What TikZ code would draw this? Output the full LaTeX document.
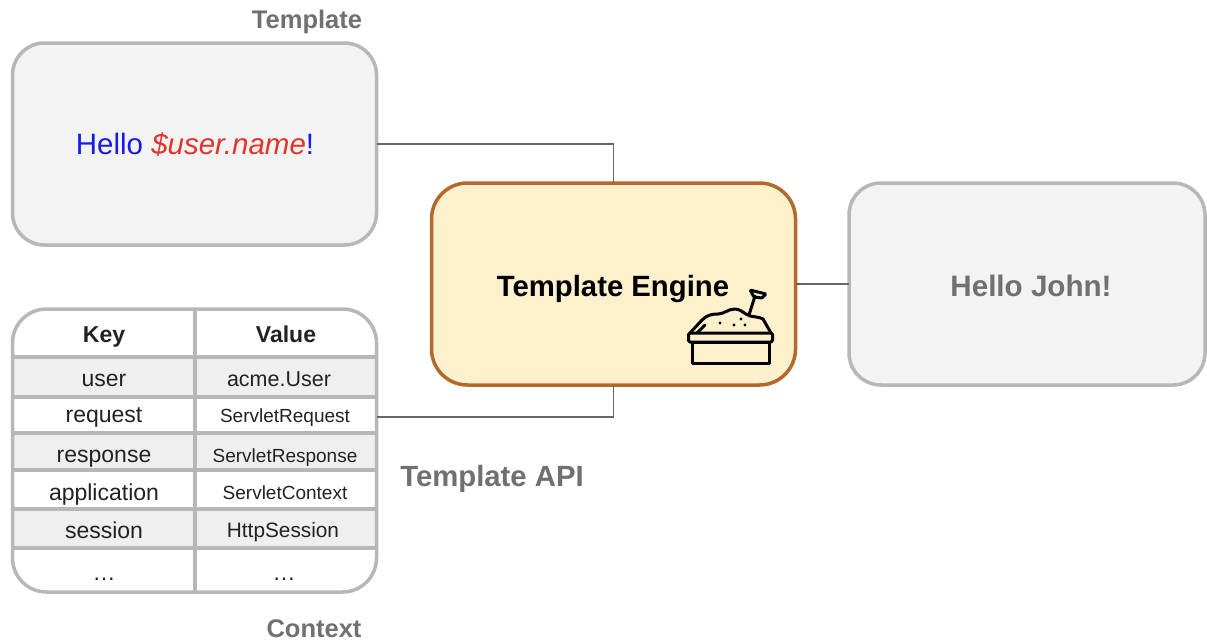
\documentclass[tikz,border=0pt]{standalone}
\usepackage{fontspec}
\setmainfont{Liberation Sans}
\usetikzlibrary{positioning}
\definecolor{boxgray}{HTML}{B7B7B7}
\definecolor{fillgray}{HTML}{F3F3F3}
\definecolor{rowgray}{HTML}{EFEFEF}
\definecolor{engfill}{HTML}{FDF0CD}
\definecolor{engdraw}{HTML}{B4692A}
\definecolor{lblgray}{HTML}{707070}
\definecolor{conngray}{HTML}{666666}
\definecolor{hblue}{HTML}{1A1AE6}
\definecolor{hred}{HTML}{E3342A}
\definecolor{txtdark}{HTML}{222222}
\tikzset{
  graybox/.style={draw=boxgray, fill=fillgray, line width=3.5pt, rounded corners=32pt,
    minimum width=364pt, minimum height=202pt, inner sep=0pt, outer sep=0pt},
  engbox/.style={draw=engdraw, fill=engfill, line width=3.5pt, rounded corners=36pt,
    minimum width=364pt, minimum height=202pt, inner sep=0pt, outer sep=0pt},
  lbl/.style={font=\fontsize{25.5}{29}\selectfont\bfseries, text=lblgray, inner sep=0pt, anchor=base},
  conn/.style={draw=conngray, line width=1.5pt},
  tline/.style={draw=boxgray, line width=3.5pt},
  keytxt/.style={font=\fontsize{23}{26}\selectfont, text=txtdark, inner sep=0pt, anchor=base},
  icon/.style={line width=3pt, black, line cap=round, line join=round}
}
\begin{document}
\begin{tikzpicture}[x=1pt,y=-1pt]
\useasboundingbox (0,0) rectangle (1207,641);

% Template box
\node[graybox] (tmpl) at (194.5,144) {};
\node[inner sep=0pt, anchor=base, font=\fontsize{29.5}{33}\selectfont] (hello) at (195,154)
  {\textcolor{hblue}{Hello }\textcolor{hred}{\itshape\$user.name}\textcolor{hblue}{!}};
\node[lbl] (ltmpl) at (307,28) {Template};

% Engine box
\node[engbox] (engine) at (613.5,284) {};
\node[inner sep=0pt, anchor=base, font=\fontsize{29.3}{33}\selectfont\bfseries] (engtxt) at (613,296) {Template Engine};

% Output box
\node[graybox, minimum width=356pt] (out) at (1027,284) {};
\node[inner sep=0pt, anchor=base, font=\fontsize{29.6}{33}\selectfont\bfseries, text=lblgray] (outtxt) at (1031,296.5) {Hello John!};

% Context table
\node[inner sep=0pt, outer sep=0pt, minimum width=364pt, minimum height=283pt] (ctx) at (194.5,450.5) {};
\fill[white, rounded corners=34pt] (12.5,309) rectangle (376.5,592);
\begin{scope}
  \clip[rounded corners=34pt] (12.5,309) rectangle (376.5,592);
  \fill[rowgray] (12,357) rectangle (377,397);
  \fill[rowgray] (12,433) rectangle (377,470);
  \fill[rowgray] (12,509) rectangle (377,548);
\end{scope}
\draw[tline] (12.5,357) -- (376.5,357);
\draw[tline] (12.5,397) -- (376.5,397);
\draw[tline] (12.5,433) -- (376.5,433);
\draw[tline] (12.5,470) -- (376.5,470);
\draw[tline] (12.5,509) -- (376.5,509);
\draw[tline] (12.5,548) -- (376.5,548);
\draw[tline] (195,309) -- (195,592);
\draw[tline, rounded corners=34pt] (12.5,309) rectangle (376.5,592);

\node[keytxt, font=\fontsize{23}{26}\selectfont\bfseries] (hkey) at (104,342) {Key};
\node[keytxt, font=\fontsize{23}{26}\selectfont\bfseries] (hval) at (286,342) {Value};
\node[keytxt] (k1) at (104,386) {user};
\node[keytxt] (k2) at (104,422) {request};
\node[keytxt] (k3) at (104,462) {response};
\node[keytxt] (k4) at (104,500) {application};
\node[keytxt] (k5) at (104,538) {session};
\node[keytxt] (k6) at (104,580) {\dots};
\node[keytxt, font=\fontsize{21.5}{25}\selectfont] (v1) at (279,386) {acme.User};
\node[inner sep=0pt, outer sep=0pt, minimum width=182pt, minimum height=36pt] (req) at (286,417) {};
\node[keytxt, font=\fontsize{19}{22}\selectfont] (v2) at (285,422.5) {ServletRequest};
\node[keytxt, font=\fontsize{19}{22}\selectfont] (v3) at (285,462) {ServletResponse};
\node[keytxt, font=\fontsize{19}{22}\selectfont] (v4) at (285,499) {ServletContext};
\node[keytxt, font=\fontsize{20.8}{24}\selectfont] (v5) at (283,537) {HttpSession};
\node[keytxt] (v6) at (284,580) {\dots};

\node[lbl] (lctx) at (314,637.5) {Context};
\node[lbl, font=\fontsize{29.3}{33}\selectfont\bfseries] (lapi) at (492,486) {Template API};

% Connectors
\draw[conn] (tmpl.east) -| (engine.north);
\draw[conn] (req.east) -| (engine.south);
\draw[conn] (engine.east) -- (out.west);

% Sandbox icon
\draw[icon] (692,342) rectangle (769,363);
\draw[icon, rounded corners=1.5pt] (688.5,333) rectangle (772.5,342);
\draw[icon] (690,333) -- (702,320);
\draw[icon] (771,333) -- (763,319);
\draw[icon] (702,320) .. controls (707,315) and (712,314) .. (718,314)
  .. controls (724,314) and (728,309) .. (735,309)
  .. controls (741,309) and (744,314) .. (750,316)
  .. controls (755,317) and (759,317) .. (763,319);
\draw[icon] (697,333) -- (705,325);
\draw[icon] (749,315) -- (755,296);
\draw[icon, rounded corners=1pt] (750,290) -- (766,294) -- (762,298) -- (754,297) -- cycle;
\fill (720,323) circle (1.7pt);
\fill (734,325) circle (1.7pt);
\fill (741,319) circle (1.7pt);
\fill (745,325) circle (1.7pt);
\end{tikzpicture}
\end{document}
